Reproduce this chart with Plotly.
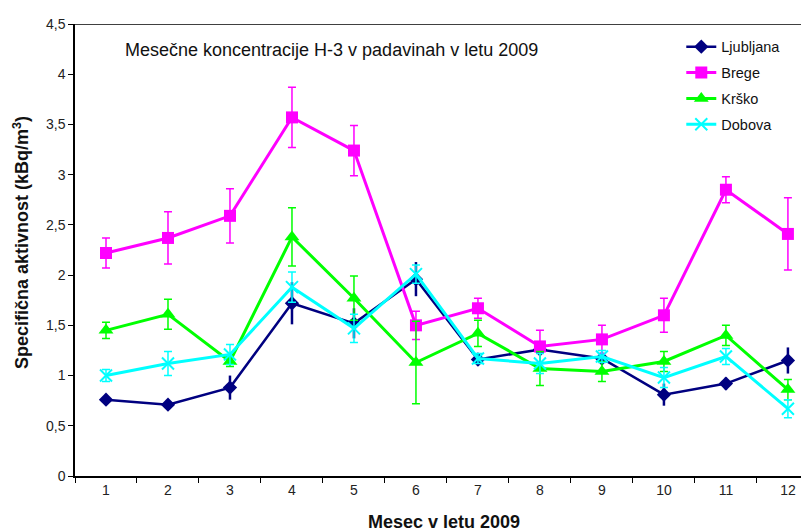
import plotly.graph_objects as go

months = [1, 2, 3, 4, 5, 6, 7, 8, 9, 10, 11, 12]

ljubljana = [0.76, 0.71, 0.88, 1.72, 1.52, 1.96, 1.16, 1.26, 1.17, 0.81, 0.92, 1.15]
ljubljana_err = [0.04, 0.05, 0.12, 0.21, 0.15, 0.17, 0.06, 0.06, 0.05, 0.11, 0.06, 0.13]

brege = [2.22, 2.37, 2.59, 3.57, 3.24, 1.50, 1.67, 1.29, 1.36, 1.60, 2.85, 2.41]
brege_err = [0.15, 0.26, 0.27, 0.30, 0.25, 0.14, 0.10, 0.16, 0.14, 0.17, 0.13, 0.36]

krsko = [1.45, 1.61, 1.14, 2.38, 1.77, 1.13, 1.42, 1.07, 1.04, 1.14, 1.40, 0.86]
krsko_err = [0.08, 0.15, 0.05, 0.29, 0.22, 0.41, 0.13, 0.17, 0.10, 0.10, 0.10, 0.10]

dobova = [1.00, 1.12, 1.21, 1.88, 1.47, 2.01, 1.17, 1.12, 1.19, 0.98, 1.19, 0.67]
dobova_err = [0.06, 0.12, 0.10, 0.15, 0.14, 0.09, 0.05, 0.10, 0.06, 0.10, 0.08, 0.09]

y_ticks = [0, 0.5, 1, 1.5, 2, 2.5, 3, 3.5, 4, 4.5]
y_tick_text = ["0", "0,5", "1", "1,5", "2", "2,5", "3", "3,5", "4", "4,5"]

FONT = "Liberation Sans, Arial, sans-serif"

series = [
    ("Ljubljana", ljubljana, ljubljana_err, "#000080", "diamond", 11, 2.5, 0, 2.5),
    ("Brege", brege, brege_err, "#FF00FF", "square", 12, 3, 4, 1.5),
    ("Krško", krsko, krsko_err, "#00FF00", "triangle-up", 13, 3, 4, 1.5),
    ("Dobova", dobova, dobova_err, "#00FFFF", "x-thin-open", 12, 3, 4, 1.5),
]

fig = go.Figure()
for i, (name, vals, errs, color, sym, msize, lw, capw, errw) in enumerate(series):
    marker = dict(symbol=sym, size=msize, color=color)
    if sym.endswith("open"):
        marker["line"] = dict(color=color, width=2)
    fig.add_trace(go.Scatter(
        x=months, y=vals, name=name, mode="lines+markers",
        line=dict(color=color, width=lw),
        marker=marker,
        error_y=dict(type="data", array=errs, visible=True, color=color,
                     thickness=errw, width=capw),
        legendgroup=name,
    ))

fig.update_layout(
    width=809, height=532,
    margin=dict(l=67, r=8, t=12, b=64),
    plot_bgcolor="white", paper_bgcolor="white",
    font=dict(family=FONT, size=14, color="#222"),
    showlegend=True,
    legend=dict(x=0.826, y=0.985, xanchor="left", yanchor="top",
                font=dict(family=FONT, size=14.5, color="#111"),
                bgcolor="rgba(0,0,0,0)", tracegroupgap=4, itemwidth=30),
    xaxis=dict(range=[0.5, 12.34], tickvals=months, ticktext=[str(m) for m in months],
               ticks="", showgrid=False, zeroline=False,
               showline=True, linecolor="black", linewidth=2,
               minor=dict(tick0=0.5, dtick=1, ticks="outside", ticklen=5,
                          tickcolor="black", tickwidth=1, showgrid=False),
               tickfont=dict(size=14, color="#222")),
    yaxis=dict(range=[0, 4.5], tickvals=y_ticks, ticktext=y_tick_text,
               ticks="outside", ticklen=5, tickcolor="black",
               showgrid=False, zeroline=False,
               showline=True, linecolor="black", linewidth=1.5,
               tickfont=dict(size=14, color="#222")),
    shapes=[dict(type="line", xref="paper", yref="y", x0=0, x1=1, y0=4.5, y1=4.5,
                 line=dict(color="black", width=1.5))],
    annotations=[
        dict(text="Mesečne koncentracije H-3 v padavinah v letu 2009",
             xref="paper", yref="paper", x=0.349, y=0.943, showarrow=False,
             font=dict(family=FONT, size=18, color="#111"), xanchor="center", yanchor="middle"),
        dict(text="<b>Specifična aktivnost (kBq/m<sup>3</sup>)</b>",
             xref="paper", yref="paper", x=(21 - 75) / 734, y=(476 - 241) / 456,
             showarrow=False, textangle=-90,
             font=dict(family=FONT, size=18, color="#111"), xanchor="center", yanchor="middle"),
        dict(text="<b>Mesec v letu 2009</b>",
             xref="paper", yref="paper", x=(444 - 75) / 734, y=(476 - 522) / 456,
             showarrow=False,
             font=dict(family=FONT, size=18, color="#111"), xanchor="center", yanchor="middle"),
    ],
)

fig.write_html("out.html")
